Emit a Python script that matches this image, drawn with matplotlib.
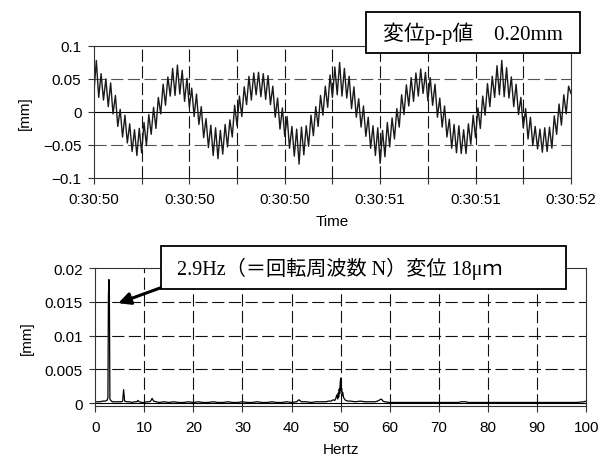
import numpy as np
import matplotlib
matplotlib.use("Agg")
import matplotlib.pyplot as plt
from matplotlib.patches import Rectangle

plt.rcParams['font.family'] = ['Liberation Sans', 'DejaVu Sans']
plt.rcParams['font.size'] = 11

# displacement waveform, um, sampled every 0.01 s (0:30:50 -> 0:30:52)
dt = 0.01
disp_um = [30, 78, 22, 58, 18, 50, 8, 44, -3, 25, -22, 4, -38, -5, -47, -18, -60, -27, -66, -25,
           -62, -16, -51, -4, -34, 7, -25, 22, -3, 42, 10, 53, 24, 66, 25, 71, 27, 63, 16, 51,
           7, 36, -7, 27, -19, 8, -39, -10, -54, -20, -66, -24, -71, -28, -64, -19, -53, -12, -38, 10,
           -21, 24, -7, 38, 11, 54, 18, 59, 26, 60, 23, 58, 19, 55, 11, 39, -8, 21, -26, 6,
           -37, -7, -55, -22, -67, -26, -79, -23, -65, -21, -52, -5, -36, 8, -22, 25, -5, 39, 7, 56,
           22, 68, 26, 75, 24, 66, 21, 54, 5, 38, -8, 20, -23, 9, -37, -8, -55, -21, -66, -24,
           -78, -28, -68, -16, -53, -9, -41, 5, -23, 26, -4, 41, 9, 52, 16, 59, 24, 65, 28, 60,
           17, 52, 10, 42, -8, 21, -23, 9, -38, -11, -55, -19, -62, -21, -63, -27, -63, -18, -49, -5,
           -39, 6, -25, 24, -5, 43, 8, 54, 22, 70, 26, 78, 23, 67, 21, 53, 8, 42, -4, 22,
           -24, 5, -41, -8, -51, -22, -56, -26, -61, -24, -60, -23, -55, -6, -34, 12, -20, 26, -3, 39,
           28]
time_ticks = [0.0, 0.4, 0.8, 1.2, 1.6, 2.0]
time_labels = ['0:30:50', '0:30:50', '0:30:50', '0:30:51', '0:30:51', '0:30:52']

# amplitude spectrum
freq_hz = [0, 0.5, 1.0, 1.5, 2.0, 2.4, 2.6, 2.7, 2.8, 2.9, 3.0, 3.2, 3.5, 4.0, 4.5, 5.0,
           5.4, 5.6, 5.8, 6.0, 6.5, 7.0, 7.5, 8.0, 8.5, 8.7, 9.0, 9.5, 10, 10.5, 11, 11.3,
           11.6, 11.9, 12.5, 13, 14, 15, 16, 17, 18, 19, 20, 21, 22, 23, 24, 25,
           26, 27, 28, 29, 30, 31, 32, 33, 34, 35, 36, 37, 38, 39, 40, 41,
           41.5, 42, 43, 44, 45, 46, 47, 47.5, 48, 48.5, 48.8, 49.0, 49.2, 49.4, 49.5, 49.6,
           49.7, 49.8, 49.9, 50.0, 50.1, 50.2, 50.3, 50.4, 50.6, 50.8, 51.0, 51.5, 52, 53, 54, 55,
           56, 57, 57.5, 58, 58.3, 58.6, 59, 60, 62, 64, 66, 68, 70, 72, 74, 74.5,
           75, 75.5, 76, 78, 80, 82, 84, 86, 88, 90, 92, 94, 96, 98, 99.5, 100]
amp_mm = [0.0002, 0.0002, 0.0002, 0.0003, 0.0003, 0.0004, 0.0008, 0.0159, 0.0183, 0.0159, 0.0006, 0.0004, 0.0002, 0.0002, 0.0002, 0.0002,
          0.0002, 0.0003, 0.0020, 0.0003, 0.0002, 0.0002, 0.0001, 0.0002, 0.0002, 0.0004, 0.0002, 0.0001, 0.0001, 0.0002, 0.0002, 0.0003,
          0.0007, 0.0003, 0.0002, 0.0001, 0.0002, 0.0001, 0.0002, 0.0001, 0.0001, 0.0002, 0.0001, 0.0002, 0.0001, 0.0001, 0.0002, 0.0001,
          0.0001, 0.0002, 0.0001, 0.0001, 0.0002, 0.0001, 0.0001, 0.0002, 0.0001, 0.0001, 0.0002, 0.0001, 0.0001, 0.0002, 0.0001, 0.0002,
          0.0005, 0.0002, 0.0002, 0.0001, 0.0002, 0.0002, 0.0002, 0.0003, 0.0003, 0.0005, 0.0004, 0.0007, 0.0012, 0.0006, 0.0015, 0.0009,
          0.0021, 0.0014, 0.0030, 0.0037, 0.0018, 0.0022, 0.0011, 0.0016, 0.0008, 0.0006, 0.0004, 0.0003, 0.0003, 0.0002, 0.0003, 0.0002,
          0.0002, 0.0002, 0.0003, 0.0005, 0.0006, 0.0003, 0.0002, 0.0001, 0.0001, 0.0001, 0.0001, 0.0001, 0.0001, 0.0001, 0.0001, 0.0002,
          0.0002, 0.0002, 0.0001, 0.0001, 0.0001, 0.0001, 0.0001, 0.0001, 0.0001, 0.0001, 0.0001, 0.0001, 0.0001, 0.0001, 0.0002, 0.0003]

jp_font = ['Liberation Serif', 'Noto Sans CJK JP']

fig = plt.figure(figsize=(6.1, 4.6), dpi=100)

def style_axes(ax):
    for sp in ax.spines.values():
        sp.set_linewidth(0.8)
        sp.set_color('#333333')
    ax.tick_params(direction='out', length=4, width=0.8, color='#333333')
    ax.tick_params(axis='x', pad=6)
    ax.tick_params(axis='y', pad=5)
    ax.set_axisbelow(True)

def dashed_grid(ax, xs, ys, ycolor):
    for x in xs:
        ax.axvline(x, color='#111111', lw=0.8, dashes=(11, 4), zorder=0)
    for y in ys:
        ax.axhline(y, color=ycolor, lw=0.8, dashes=(11, 4), zorder=0)

# time waveform
ax1 = fig.add_axes([0.154, 0.611, 0.782, 0.287])
t = np.arange(len(disp_um)) * dt
disp_mm = np.array(disp_um) / 1000.0
dashed_grid(ax1, np.arange(0.2, 2.0, 0.2), [-0.05, 0.05], '#555555')
ax1.axhline(0, color='black', lw=0.8, zorder=0)
ax1.plot(t, disp_mm, color='#1a1a1a', lw=1.0)
ax1.set_xlim(0, 2.0)
ax1.set_ylim(-0.1, 0.1)
ax1.set_xticks(np.arange(0, 2.01, 0.2))
ax1.set_xticklabels([time_labels[time_ticks.index(round(v, 1))] if round(v, 1) in time_ticks else ''
                     for v in np.arange(0, 2.01, 0.2)])
ax1.set_yticks([-0.1, -0.05, 0, 0.05, 0.1])
ax1.set_yticklabels(['\u22120.1', '\u22120.05', '0', '0.05', '0.1'])
ax1.set_xlabel('Time', labelpad=6)
ax1.set_ylabel('[mm]', labelpad=8)
style_axes(ax1)

# spectrum
ax2 = fig.add_axes([0.156, 0.115, 0.805, 0.300])
dashed_grid(ax2, np.arange(10, 100, 10), [0.005, 0.01, 0.015], '#111111')
ax2.axhline(0, color='black', lw=0.8, zorder=0)
ax2.plot(freq_hz, amp_mm, color='black', lw=0.9)
ax2.set_xlim(0, 100)
ax2.set_ylim(-0.00044, 0.02)
ax2.set_xticks(np.arange(0, 101, 10))
ax2.set_yticks([0, 0.005, 0.01, 0.015, 0.02])
ax2.set_yticklabels(['0', '0.005', '0.01', '0.015', '0.02'])
ax2.set_xlabel('Hertz', labelpad=6)
ax2.set_ylabel('[mm]', labelpad=8)
style_axes(ax2)

ax2.annotate('', xy=(4.7, 0.0148), xytext=(13.4, 0.0171),
             arrowprops=dict(arrowstyle='-|>', lw=2.2, color='black', mutation_scale=18,
                             shrinkA=0, shrinkB=0))

# text boxes
fig.add_artist(Rectangle((0.600, 0.883), 0.351, 0.089, transform=fig.transFigure,
                         facecolor='white', edgecolor='black', lw=1.3, zorder=5))
fig.text(0.775, 0.927, '変位p-p値\u30000.20mm', family=jp_font, fontsize=15,
         ha='center', va='center', zorder=6)

fig.add_artist(Rectangle((0.264, 0.370), 0.664, 0.0935, transform=fig.transFigure,
                         facecolor='white', edgecolor='black', lw=1.3, zorder=5))
fig.text(0.290, 0.416, '2.9Hz（＝回転周波数 N）変位 18μｍ', family=jp_font, fontsize=14.5,
         ha='left', va='center', zorder=6)

fig.savefig('out.png', dpi=100)
